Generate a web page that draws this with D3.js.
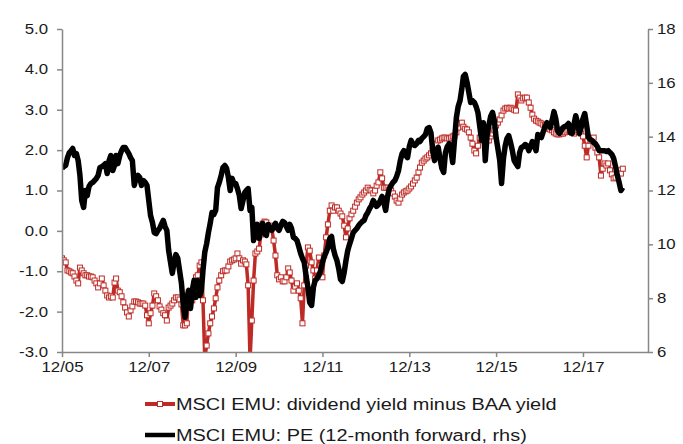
<!DOCTYPE html>
<html>
<head>
<meta charset="utf-8">
<script src="https://cdn.jsdelivr.net/npm/d3@7/dist/d3.min.js"></script>
<style>
  body { margin: 0; background: #fff; }
  svg { display: block; font-family: Arial, "Liberation Sans", sans-serif; }
</style>
</head>
<body>
<div id="chart"></div>
<script>
// half-monthly observations, first one Dec 2005
const seriesNames = ['MSCI EMU: dividend yield minus BAA yield', 'MSCI EMU: PE (12-month forward, rhs)'];

const yieldGap = [
  -0.68,-0.73,-0.78,-0.98,-1.00,-1.03,-1.05,-1.13,-1.23,-1.30,-0.91,-0.98,-1.05,-1.10,-1.10,-1.13,-1.13,-1.15,-1.23,-1.30,-1.40,-1.30,-1.18,-1.35,
  -1.48,-1.60,-1.65,-1.62,-1.65,-1.28,-1.18,-1.48,-1.52,-1.62,-1.77,-1.90,-2.02,-2.12,-1.97,-1.87,-1.75,-1.75,-1.77,-1.80,-1.80,-1.80,-1.85,-2.09,
  -2.29,-2.04,-1.85,-1.55,-1.62,-1.72,-1.87,-1.95,-2.04,-2.09,-2.22,-1.90,-1.85,-1.80,-1.72,-1.65,-1.65,-1.70,-1.82,-2.34,-2.34,-2.29,-1.52,-1.62,
  -1.72,-1.48,-1.15,-1.10,-0.86,-0.78,-1.72,-3.15,-2.84,-2.54,-2.29,-2.12,-1.92,-1.67,-1.40,-1.23,-1.10,-1.00,-0.98,-0.98,-0.88,-0.76,-0.73,-0.71,
  -0.68,-0.56,-0.68,-0.81,-0.73,-0.76,-0.83,-1.35,-3.20,-2.22,-1.23,-0.56,-0.51,-0.44,-0.09,0.18,0.23,0.21,0.11,0.13,0.06,-0.24,-0.61,-1.10,
  -1.20,-1.15,-1.25,-1.25,-1.15,-0.93,-1.03,-1.23,-1.48,-1.38,-1.30,-1.48,-1.67,-2.29,-1.35,-0.86,-0.41,-0.49,-0.78,-0.98,-1.18,-0.98,-0.66,-0.86,
  -1.15,-0.61,-0.16,0.16,0.50,0.63,0.50,0.58,0.58,0.50,0.43,0.36,0.13,-0.16,0.06,0.31,0.41,0.50,0.60,0.70,0.78,0.83,0.90,0.95,
  1.00,1.07,1.02,1.00,0.93,1.00,1.12,1.20,1.45,1.30,1.07,1.07,1.07,1.02,1.00,0.93,0.85,0.75,0.70,0.80,0.90,0.95,0.98,1.00,
  1.05,1.10,1.17,1.25,1.32,1.45,1.57,1.69,1.74,1.79,1.82,1.87,1.92,1.99,2.06,2.16,2.24,2.26,2.29,2.31,2.31,2.29,2.29,2.31,
  2.34,2.36,2.44,2.56,2.66,2.68,2.58,2.53,2.51,2.44,2.31,2.16,1.99,1.92,2.11,2.31,2.46,2.53,2.49,2.36,2.24,2.34,2.41,2.49,
  2.61,2.68,2.76,2.86,2.98,3.03,3.05,3.03,3.05,3.03,3.00,2.98,3.38,3.30,3.23,3.28,3.30,3.30,3.18,3.05,2.88,2.78,2.73,2.71,
  2.68,2.66,2.63,2.61,2.56,2.53,2.51,2.49,2.44,2.41,2.39,2.39,2.41,2.41,2.44,2.46,2.49,2.46,2.44,2.41,2.46,2.49,2.46,2.41,
  2.34,2.11,1.82,2.11,2.24,2.29,2.31,2.06,1.94,1.82,1.37,1.54,1.67,1.62,1.67,1.50,1.40,1.30,1.32,1.45,1.50,1.42,1.54
];

const peForward = [
  12.82,12.89,12.93,13.22,13.41,13.48,13.56,13.30,13.37,13.11,12.56,11.63,11.37,12.00,11.81,12.15,12.26,12.30,12.37,12.45,12.56,12.85,12.89,12.93,
  13.00,12.63,13.11,13.30,12.74,12.93,13.30,13.00,13.30,13.48,13.60,13.60,13.48,13.37,13.22,13.11,12.19,12.45,12.56,12.48,12.19,12.37,12.30,12.19,
  11.63,11.07,10.81,10.44,10.40,10.52,10.59,10.74,10.89,10.66,10.52,9.78,9.33,8.92,9.33,9.62,9.48,9.03,8.55,7.73,7.29,7.99,8.29,7.62,
  8.29,8.66,8.03,8.66,8.10,8.29,9.03,9.70,10.03,10.44,10.78,11.18,11.11,11.26,12.11,12.30,12.56,12.85,12.93,12.82,12.48,12.00,12.45,12.26,
  12.26,12.07,11.81,11.33,11.63,11.93,12.00,12.07,11.26,11.37,10.14,10.52,10.74,10.22,10.52,10.78,10.40,10.33,10.74,10.59,10.52,10.66,10.78,10.59,
  10.52,10.70,10.85,10.81,10.66,10.52,10.74,10.59,10.26,10.22,10.14,9.92,9.66,9.48,9.33,8.84,8.40,7.84,7.73,8.40,8.66,8.73,8.84,9.03,
  9.33,9.55,9.70,9.88,10.22,10.29,9.85,9.59,9.40,9.10,8.70,8.62,8.96,9.40,9.77,10.00,10.22,10.44,10.52,10.59,10.70,10.78,10.85,10.89,
  11.07,11.18,11.33,11.44,11.63,11.52,11.41,11.48,11.63,11.78,11.55,11.26,11.78,12.07,12.19,12.30,12.37,12.52,12.74,13.11,13.37,13.48,13.30,13.22,
  13.63,13.86,13.71,13.67,13.74,13.86,13.82,13.93,14.00,14.08,14.30,14.34,14.15,13.48,13.11,13.48,13.60,13.19,12.82,12.67,13.41,13.63,13.74,13.48,
  13.04,13.86,14.71,15.12,15.35,15.79,16.24,16.31,16.01,15.64,15.27,15.34,15.27,15.12,14.90,14.41,13.86,14.52,13.11,14.04,14.41,14.75,14.90,14.60,
  13.97,13.56,13.11,12.26,13.19,13.67,13.93,14.04,13.78,13.48,13.11,13.00,12.89,13.41,13.60,13.63,13.71,13.67,13.48,13.63,13.82,13.71,13.48,14.08,
  14.04,13.97,14.19,14.38,14.52,14.41,14.34,14.60,14.93,14.67,14.23,14.12,14.23,14.34,14.38,14.41,14.49,14.15,14.12,14.45,14.78,14.52,14.12,14.34,
  14.67,14.86,14.41,13.97,13.89,13.86,13.78,13.74,13.63,13.48,13.48,13.48,13.48,13.45,13.48,13.41,13.34,13.19,12.89,12.56,12.30,12.00,12.11
];

const leftTicks = [-3, -2, -1, 0, 1, 2, 3, 4, 5];
const rightTicks = [6, 8, 10, 12, 14, 16, 18];
const xTickYears = [2005, 2007, 2009, 2011, 2013, 2015, 2017];

const dates = yieldGap.map((v, i) => new Date(2005, 11 + Math.floor(i / 2), i % 2 ? 16 : 1));

const W = 683, H = 444;
const plot = { left: 62, right: 648, top: 29, bottom: 352 };
const red = '#be2a25', axisGrey = '#878787', textCol = '#1a1a1a';
const stretchX = 1.2; // the reference glyphs are wider than they are tall

const svg = d3.select('#chart').append('svg')
  .attr('width', W)
  .attr('height', H);

const x = d3.scaleTime()
  .domain([new Date(2005, 11, 1), new Date(2019, 5, 1)])
  .range([plot.left, plot.right]);
const yL = d3.scaleLinear().domain([-3, 5]).range([plot.bottom, plot.top]);
const yR = d3.scaleLinear().domain([6, 18]).range([plot.bottom, plot.top]);

// move x/y of text into a transform so the glyphs can be widened
function widen(sel) {
  sel.each(function () {
    const t = d3.select(this);
    const tx = +t.attr('x') || 0, ty = +t.attr('y') || 0;
    t.attr('x', 0).attr('y', 0)
      .attr('transform', `translate(${tx},${ty}) scale(${stretchX},1)`);
  });
}

function styleAxis(g) {
  g.select('.domain').attr('stroke', axisGrey).attr('stroke-width', 1.5);
  g.selectAll('.tick line').attr('stroke', axisGrey).attr('stroke-width', 1.5);
  g.selectAll('.tick text')
    .attr('fill', textCol)
    .style('font-size', '14px');
  widen(g.selectAll('.tick text'));
}

// clip
svg.append('clipPath').attr('id', 'plotclip')
  .append('rect')
  .attr('x', plot.left)
  .attr('y', plot.top)
  .attr('width', plot.right - plot.left)
  .attr('height', plot.bottom - plot.top);

const gData = svg.append('g').attr('clip-path', 'url(#plotclip)');

// red series: line + hollow squares
const redLine = d3.line()
  .x((d, i) => x(dates[i]))
  .y(d => yL(d));

gData.append('path')
  .datum(yieldGap)
  .attr('fill', 'none')
  .attr('stroke', red)
  .attr('stroke-width', 3.5)
  .attr('stroke-linejoin', 'round')
  .attr('d', redLine);

const mk = 5;
gData.append('g')
  .selectAll('rect')
  .data(yieldGap)
  .enter()
  .append('rect')
  .attr('x', (d, i) => x(dates[i]) - mk / 2)
  .attr('y', d => yL(d) - mk / 2)
  .attr('width', mk)
  .attr('height', mk)
  .attr('fill', '#fff')
  .attr('stroke', red)
  .attr('stroke-width', 1);

// black series on the right axis
const peLine = d3.line()
  .x((d, i) => x(dates[i]))
  .y(d => yR(d));

gData.append('path')
  .datum(peForward)
  .attr('fill', 'none')
  .attr('stroke', '#000')
  .attr('stroke-width', 5.5)
  .attr('stroke-linejoin', 'round')
  .attr('d', peLine);

// axes
const leftAxis = d3.axisLeft(yL)
  .tickValues(leftTicks)
  .tickFormat(d => d.toFixed(1))
  .tickSize(5)
  .tickSizeOuter(0)
  .tickPadding(9);
svg.append('g')
  .attr('transform', `translate(${plot.left},0)`)
  .call(leftAxis)
  .call(styleAxis);

const rightAxis = d3.axisRight(yR)
  .tickValues(rightTicks)
  .tickSize(5)
  .tickSizeOuter(0)
  .tickPadding(4);
svg.append('g')
  .attr('transform', `translate(${plot.right},0)`)
  .call(rightAxis)
  .call(styleAxis);

const bottomAxis = d3.axisBottom(x)
  .tickValues(xTickYears.map(yr => new Date(yr, 11, 1)))
  .tickFormat(d3.timeFormat('%m/%y'))
  .tickSize(5)
  .tickSizeOuter(0)
  .tickPadding(5);
svg.append('g')
  .attr('transform', `translate(0,${plot.bottom})`)
  .call(bottomAxis)
  .call(styleAxis);

// legend
const legend = svg.append('g').attr('font-size', '16.6px').attr('fill', textCol);
const legendRows = [
  { name: seriesNames[0], color: red, width: 4, marker: true, y: 404 },
  { name: seriesNames[1], color: '#000', width: 4.5, marker: false, y: 435 }
];
legendRows.forEach(r => {
  legend.append('line')
    .attr('x1', 145).attr('x2', 175)
    .attr('y1', r.y).attr('y2', r.y)
    .attr('stroke', r.color)
    .attr('stroke-width', r.width);
  if (r.marker) {
    legend.append('rect')
      .attr('x', 160 - mk / 2).attr('y', r.y - mk / 2)
      .attr('width', mk).attr('height', mk)
      .attr('fill', '#fff').attr('stroke', r.color).attr('stroke-width', 1);
  }
  legend.append('text')
    .attr('x', 176)
    .attr('y', r.y + 6)
    .text(r.name);
});
widen(legend.selectAll('text'));
</script>
</body>
</html>
